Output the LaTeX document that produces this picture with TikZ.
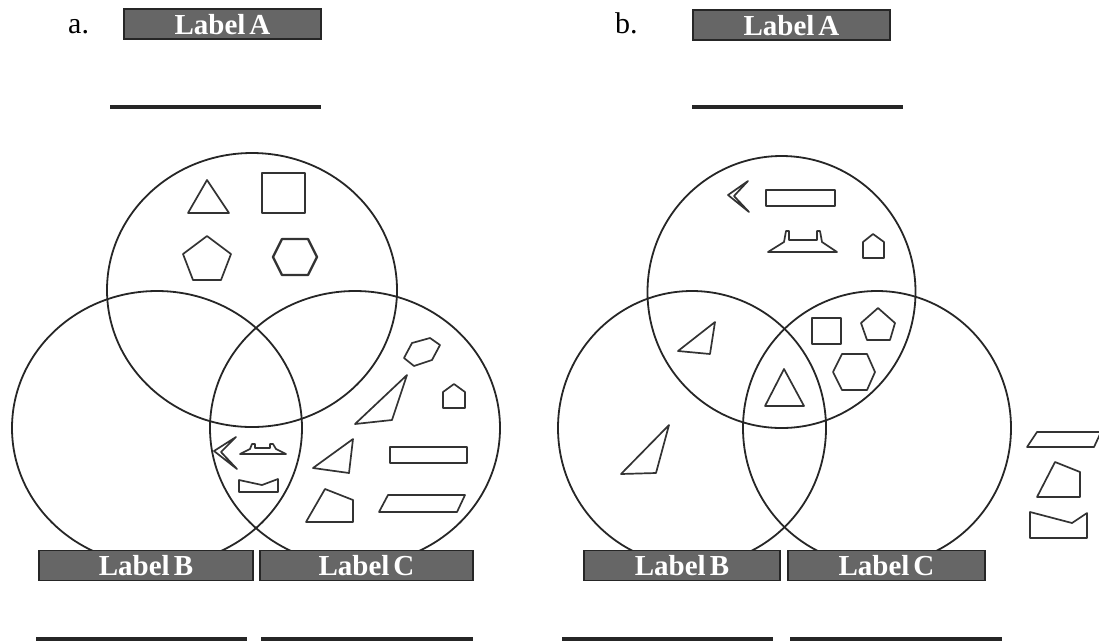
\documentclass[tikz,border=0pt]{standalone}
\usepackage{fontspec}
\setmainfont{Liberation Serif}
\begin{document}
\begin{tikzpicture}[x=1pt,y=-1pt,
  ring/.style={line width=1.8pt, draw=black!85},
  fig/.style={line width=1.7pt, draw=black!80, line join=round},
  lab/.style={draw=black!85, line width=1.2pt, fill=black!60, text=white,
    font=\fontsize{29}{29}\selectfont\bfseries, inner sep=0pt,
    text height=20pt, text depth=0pt, minimum height=30pt},
  rule/.style={line width=3.2pt, draw=black!85},
  panel/.style={font=\fontsize{30}{30}\selectfont, inner sep=0pt, anchor=base west}]
\useasboundingbox (0,0) rectangle (1099,641);

% ---------------- panel a ----------------
\node[panel] (pa) at (68,33) {a.};
\draw[ring] (252,290) ellipse [x radius=145, y radius=137];
\draw[ring] (157,428) ellipse [x radius=145, y radius=137];
\draw[ring] (355,428) ellipse [x radius=145, y radius=137];

\node[lab, minimum width=197pt] (aA) at (222.5,24) {Label\hspace{4pt}A};
\node[lab, minimum width=214pt] (aB) at (146,565.5) {Label\hspace{4pt}B};
\node[lab, minimum width=213pt] (aC) at (366.5,565.5) {Label\hspace{4pt}C};

\draw[rule] (110,107) -- (321,107);
\draw[rule] (36,639) -- (247,639);
\draw[rule] (261,639) -- (473,639);

% shapes in A
\draw[fig] (207,180) -- (188,213) -- (229,213) -- cycle;
\draw[fig] (262,173) rectangle (305,213);
\draw[fig] (207,236) -- (231,254) -- (221,280) -- (193,280) -- (183,254) -- cycle;
\draw[fig, line width=2.3pt] (282,239) -- (308,239) -- (317,257) -- (308,275) -- (282,275) -- (273,257) -- cycle;
% shapes in C
\draw[fig] (404,358) -- (412,343) -- (430,338) -- (440,345) -- (432,360) -- (414,366) -- cycle;
\draw[fig] (407,375) -- (355,424) -- (392,420) -- cycle;
\draw[fig] (443,408) -- (443,392) -- (454,384) -- (465,392) -- (465,408) -- cycle;
\draw[fig] (353,439) -- (313,468) -- (349,473) -- cycle;
\draw[fig] (390,447) rectangle (467,463);
\draw[fig] (379,512) -- (388,495) -- (465,495) -- (457,512) -- cycle;
\draw[fig] (306,522) -- (325,489) -- (353,500) -- (353,522) -- cycle;
% shapes in B and C
\draw[fig] (236,437) -- (214,451) -- (237,469) -- (221,452) -- cycle;
\draw[fig] (240,454) -- (250,449) -- (252,444) -- (255,444) -- (255,448) -- (270,448) -- (270,444) -- (273,444) -- (276,449) -- (286,454) -- cycle;
\draw[fig] (239,480) -- (262,485) -- (278,479) -- (278,492) -- (239,492) -- cycle;

% ---------------- panel b ----------------
\node[panel] (pb) at (615,33) {b.};
\draw[ring] (781.5,292) ellipse [x radius=134, y radius=136];
\draw[ring] (692,428) ellipse [x radius=134, y radius=137];
\draw[ring] (877,428) ellipse [x radius=134, y radius=137];

\node[lab, minimum width=197pt] (bA) at (791.5,25) {Label\hspace{4pt}A};
\node[lab, minimum width=196pt] (bB) at (682,565.5) {Label\hspace{4pt}B};
\node[lab, minimum width=197pt] (bC) at (886.5,565.5) {Label\hspace{4pt}C};

\draw[rule] (692,107) -- (903,107);
\draw[rule] (562,639) -- (773,639);
\draw[rule] (790,639) -- (1002,639);

% shapes in A only
\draw[fig] (748,181) -- (728,195) -- (749,212) -- (734,196) -- cycle;
\draw[fig] (766,190) rectangle (835,206);
\draw[fig] (768,252) -- (784,242) -- (786,231) -- (789,231) -- (789,240) -- (817,240) -- (817,231) -- (820,231) -- (822,242) -- (837,252) -- cycle;
\draw[fig] (863,258) -- (863,242) -- (873,234) -- (884,242) -- (884,258) -- cycle;
% A and B
\draw[fig] (715,322) -- (678,351) -- (710,354) -- cycle;
% A and C
\draw[fig] (812,318) rectangle (841,344);
\draw[fig] (878,308) -- (895,323) -- (890,340) -- (867,340) -- (861,323) -- cycle;
\draw[fig] (842,354) -- (867,354) -- (875,372) -- (867,390) -- (842,390) -- (833,372) -- cycle;
% A, B and C
\draw[fig] (784,369) -- (765,406) -- (804,406) -- cycle;
% B only
\draw[fig] (669,425) -- (621,474) -- (656,473) -- cycle;
% outside
\draw[fig] (1027,447) -- (1037,432) -- (1101,432) -- (1094,447) -- cycle;
\draw[fig] (1037,497) -- (1055,462) -- (1080,472) -- (1080,497) -- cycle;
\draw[fig] (1030,512) -- (1072,523) -- (1087,513) -- (1087,538) -- (1030,538) -- cycle;
\end{tikzpicture}
\end{document}
